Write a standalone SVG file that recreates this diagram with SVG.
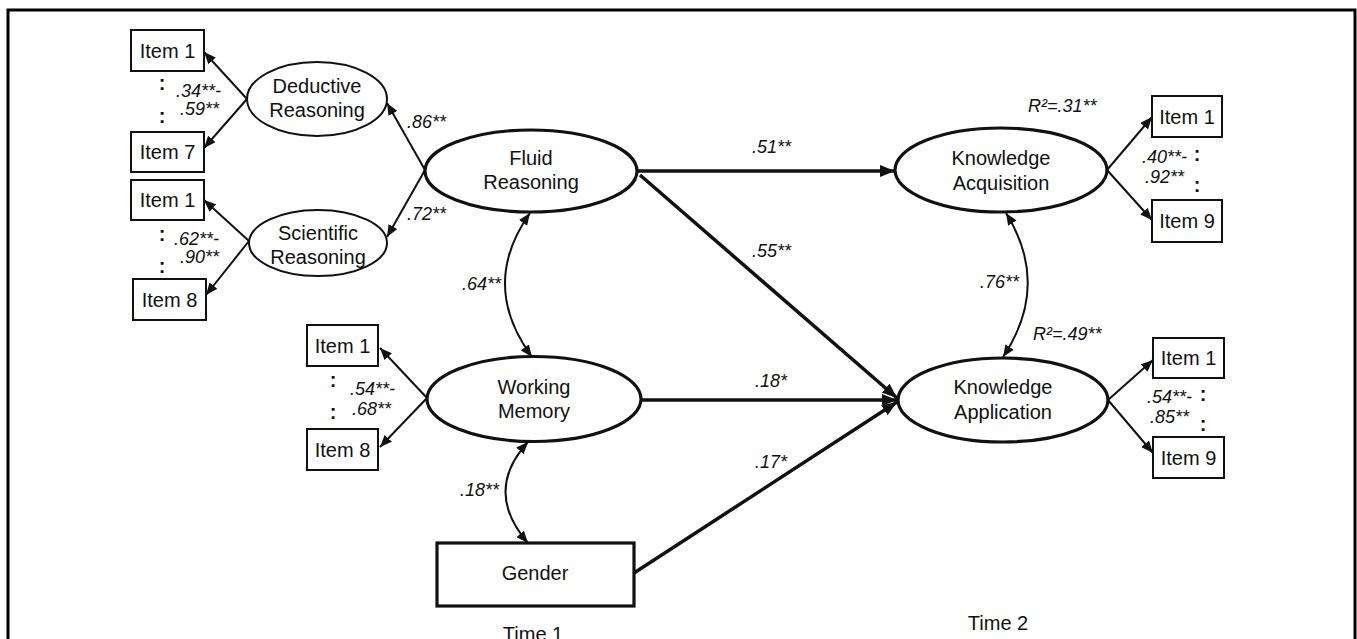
<svg xmlns="http://www.w3.org/2000/svg" width="1357" height="639" viewBox="0 0 1357 639">
<defs>
<style>
.lbl{font-family:"Liberation Sans",Arial,sans-serif;font-size:20px;fill:#111;text-anchor:middle}
.coef{font-family:"Liberation Sans",Arial,sans-serif;font-size:18px;font-style:italic;fill:#111}
.dots{font-family:"Liberation Sans",Arial,sans-serif;font-size:20px;font-weight:bold;fill:#111;text-anchor:middle}
.box{fill:#fff;stroke:#111;stroke-width:2}
.thin{fill:#fff;stroke:#111;stroke-width:2}
.thick{fill:#fff;stroke:#111;stroke-width:3.2}
.a{fill:none;stroke:#111;stroke-width:2;marker-end:url(#ah)}
.ab{fill:none;stroke:#111;stroke-width:2;marker-end:url(#ah);marker-start:url(#ah)}
.A{fill:none;stroke:#111;stroke-width:3.5;marker-end:url(#AH)}
</style>
<marker id="ah" viewBox="0 0 12 10" refX="12" refY="5" markerWidth="12" markerHeight="10" markerUnits="userSpaceOnUse" orient="auto-start-reverse"><path d="M0,0 L12,5 L0,10 z" fill="#111"/></marker>
<marker id="AH" viewBox="0 0 15 12" refX="15" refY="6" markerWidth="15" markerHeight="12" markerUnits="userSpaceOnUse" orient="auto"><path d="M0,0 L15,6 L0,12 z" fill="#111"/></marker>
</defs>
<rect width="1357" height="639" fill="#fff"/>
<path d="M8 645 V10 H1355 V645" fill="none" stroke="#000" stroke-width="3"/>

<g id="connectors">
<line class="a" x1="247" y1="99" x2="204" y2="52"/>
<line class="a" x1="247" y1="99" x2="204" y2="148"/>
<line class="a" x1="249" y1="241" x2="204" y2="200"/>
<line class="a" x1="249" y1="241" x2="206" y2="295"/>
<line class="a" x1="425" y1="170" x2="387" y2="103"/>
<line class="a" x1="425" y1="170" x2="387" y2="237"/>
<line class="a" x1="427" y1="398" x2="380" y2="348"/>
<line class="a" x1="427" y1="398" x2="380" y2="447"/>
<line class="a" x1="1107" y1="170" x2="1152" y2="117"/>
<line class="a" x1="1107" y1="170" x2="1152" y2="220"/>
<line class="a" x1="1108" y1="400" x2="1153" y2="360"/>
<line class="a" x1="1108" y1="400" x2="1153" y2="453"/>
<path class="ab" d="M530 213 Q479 285 532 357"/>
<path class="ab" d="M528 442 Q483 491 528 543"/>
<path class="ab" d="M1006 213 Q1051 285 1003 357"/>
<line class="A" x1="638" y1="171" x2="895" y2="171"/>
<line class="A" x1="640" y1="175" x2="897" y2="398"/>
<line class="A" x1="641" y1="400" x2="897" y2="400"/>
<line class="A" x1="634" y1="573" x2="897" y2="402"/>
</g>

<g id="item-dr1"><rect class="box" x="131" y="30" width="73" height="41"/><text class="lbl" x="167.5" y="57.5">Item 1</text></g>
<g id="item-dr7"><rect class="box" x="131" y="132" width="73" height="40"/><text class="lbl" x="167.5" y="159">Item 7</text></g>
<g id="item-sr1"><rect class="box" x="131" y="180" width="73" height="40"/><text class="lbl" x="167.5" y="207">Item 1</text></g>
<g id="item-sr8"><rect class="box" x="133" y="279" width="73" height="41"/><text class="lbl" x="169.5" y="306.5">Item 8</text></g>
<g id="item-wm1"><rect class="box" x="307" y="325" width="71" height="41"/><text class="lbl" x="342.5" y="352.5">Item 1</text></g>
<g id="item-wm8"><rect class="box" x="307" y="429" width="71" height="41"/><text class="lbl" x="342.5" y="456.5">Item 8</text></g>
<g id="item-ka1"><rect class="box" x="1152" y="96" width="70" height="41"/><text class="lbl" x="1187" y="123.5">Item 1</text></g>
<g id="item-ka9"><rect class="box" x="1152" y="200" width="70" height="42"/><text class="lbl" x="1187" y="228">Item 9</text></g>
<g id="item-kp1"><rect class="box" x="1153" y="338" width="71" height="40"/><text class="lbl" x="1188.5" y="365">Item 1</text></g>
<g id="item-kp9"><rect class="box" x="1153" y="437" width="71" height="41"/><text class="lbl" x="1188.5" y="464.5">Item 9</text></g>

<g id="deductive"><ellipse class="thin" cx="317" cy="99" rx="70" ry="37"/><text class="lbl" x="317" y="93">Deductive</text><text class="lbl" x="317" y="117">Reasoning</text></g>
<g id="scientific"><ellipse class="thin" cx="318" cy="243" rx="69" ry="33"/><text class="lbl" x="318" y="240">Scientific</text><text class="lbl" x="318" y="264">Reasoning</text></g>
<g id="fluid"><ellipse class="thick" cx="531" cy="171" rx="106" ry="41"/><text class="lbl" x="531" y="165">Fluid</text><text class="lbl" x="531" y="189">Reasoning</text></g>
<g id="wm"><ellipse class="thick" cx="534" cy="399" rx="107" ry="42.5"/><text class="lbl" x="534" y="394">Working</text><text class="lbl" x="534" y="418">Memory</text></g>
<g id="gender"><rect class="thick" x="437" y="543" width="197" height="63"/><text class="lbl" x="535" y="580">Gender</text></g>
<g id="kacq"><ellipse class="thick" cx="1001" cy="170" rx="106" ry="42"/><text class="lbl" x="1001" y="165">Knowledge</text><text class="lbl" x="1001" y="190">Acquisition</text></g>
<g id="kapp"><ellipse class="thick" cx="1003" cy="400" rx="105" ry="42"/><text class="lbl" x="1003" y="394">Knowledge</text><text class="lbl" x="1003" y="419">Application</text></g>

<g id="labels">
<text class="dots" x="162" y="90">:</text><text class="dots" x="162" y="123">:</text>
<text class="dots" x="162" y="241">:</text><text class="dots" x="162" y="273">:</text>
<text class="dots" x="333" y="387">:</text><text class="dots" x="333" y="419">:</text>
<text class="dots" x="1197" y="161">:</text><text class="dots" x="1197" y="192">:</text>
<text class="dots" x="1203" y="401">:</text><text class="dots" x="1203" y="431">:</text>
<text class="coef" x="176" y="97">.34**-</text>
<text class="coef" x="180" y="115">.59**</text>
<text class="coef" x="174" y="245">.62**-</text>
<text class="coef" x="180" y="263">.90**</text>
<text class="coef" x="407" y="128">.86**</text>
<text class="coef" x="407" y="220">.72**</text>
<text class="coef" x="462" y="290">.64**</text>
<text class="coef" x="350" y="395">.54**-</text>
<text class="coef" x="352" y="415">.68**</text>
<text class="coef" x="460" y="496">.18**</text>
<text class="coef" x="752" y="153">.51**</text>
<text class="coef" x="752" y="257">.55**</text>
<text class="coef" x="755" y="387">.18*</text>
<text class="coef" x="755" y="468">.17*</text>
<text class="coef" x="1028" y="112">R²=.31**</text>
<text class="coef" x="1033" y="340">R²=.49**</text>
<text class="coef" x="1142" y="163">.40**-</text>
<text class="coef" x="1145" y="183">.92**</text>
<text class="coef" x="1147" y="403">.54**-</text>
<text class="coef" x="1150" y="423">.85**</text>
<text class="coef" x="980" y="288">.76**</text>
<text class="lbl" x="533" y="641">Time 1</text>
<text class="lbl" x="998" y="630">Time 2</text>
</g>
</svg>
